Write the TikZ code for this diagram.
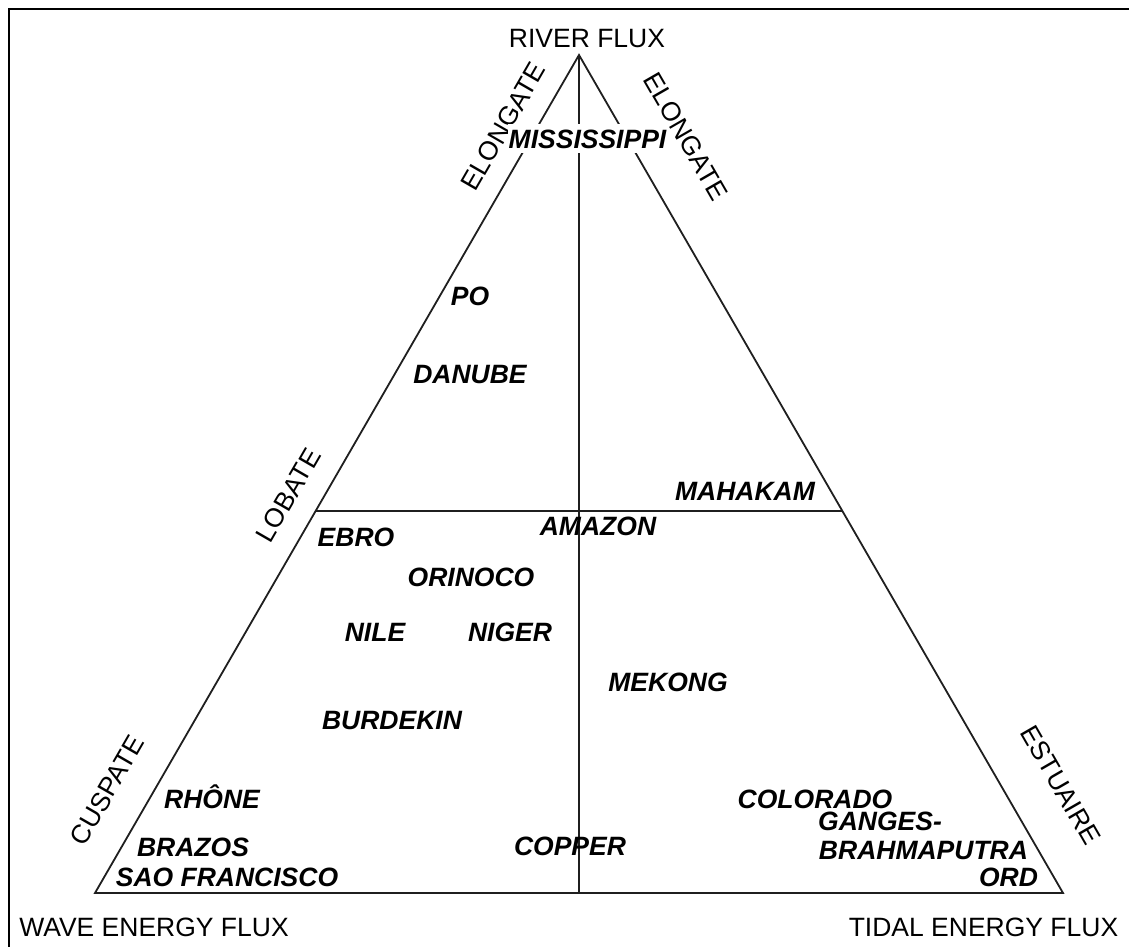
\documentclass[tikz,border=0pt]{standalone}
\usepackage{fontspec}
\setmainfont{Liberation Sans}
\usetikzlibrary{calc}
\begin{document}
\begin{tikzpicture}[x=1pt,y=-1pt,
  lbl/.style={font=\fontsize{26.5}{30}\selectfont\bfseries\itshape, inner sep=0pt, text height=19pt, text depth=0pt, anchor=center},
  ax/.style={font=\fontsize{26.5}{30}\selectfont, inner sep=0pt, text height=19pt, text depth=0pt, anchor=center},
  tri/.style={line width=1.8pt, draw=black!88},
  frame/.style={line width=2.6pt, draw=black}]
\useasboundingbox (0,0) rectangle (1129,947);
% frame (top and left visible)
\draw[frame] (9,947) -- (9,9) -- (1129,9);
% triangle
\coordinate (T) at (579,55);
\coordinate (L) at (95,893);
\coordinate (R) at (1063,893);
\coordinate (B) at (579,893);
\coordinate (ML) at ($(L)!0.4558!(T)$);
\coordinate (MR) at ($(R)!0.4558!(T)$);
\draw[tri] (T) -- (L) -- (R) -- cycle;
\draw[tri] (T) -- (B);
\draw[tri] (ML) -- (MR);
% axis labels
\node[ax] (river) at (587,38.5) {RIVER FLUX};
\node[ax] (wave) at (154,927) {WAVE ENERGY FLUX};
\node[ax] (tidal) at (983.5,927) {TIDAL ENERGY FLUX};
% side labels
\node[ax, rotate=60] (elL) at (503,126) {ELONGATE};
\node[ax, rotate=-60] (elR) at (686,136) {ELONGATE};
\node[ax, rotate=60] (lob) at (288,495) {LOBATE};
\node[ax, rotate=60] (cus) at (107,790) {CUSPATE};
\node[ax, rotate=-60] (est) at (1061,785) {ESTUAIRE};
% deltas
\node[lbl, fill=white, inner xsep=1pt, inner ysep=5pt] (miss) at (587.5,138.5) {MISSISSIPPI};
\node[lbl] (po) at (470,296) {PO};
\node[lbl] (dan) at (470,374) {DANUBE};
\node[lbl] (mah) at (745,491) {MAHAKAM};
\node[lbl] (ebro) at (356,537) {EBRO};
\node[lbl] (amaz) at (598,526) {AMAZON};
\node[lbl] (orin) at (471,577) {ORINOCO};
\node[lbl] (nile) at (375,632) {NILE};
\node[lbl] (nig) at (510,632) {NIGER};
\node[lbl] (mek) at (668,682) {MEKONG};
\node[lbl] (burd) at (392,720) {BURDEKIN};
\node[lbl] (rho) at (212,799) {RHÔNE};
\node[lbl] (braz) at (193,847) {BRAZOS};
\node[lbl] (sao) at (227,877) {SAO FRANCISCO};
\node[lbl] (cop) at (570,846) {COPPER};
\node[lbl] (col) at (815,799) {COLORADO};
\node[lbl] (gan) at (880,821) {GANGES-};
\node[lbl] (brah) at (923.5,850) {BRAHMAPUTRA};
\node[lbl] (ord) at (1008.5,877) {ORD};
\end{tikzpicture}
\end{document}
